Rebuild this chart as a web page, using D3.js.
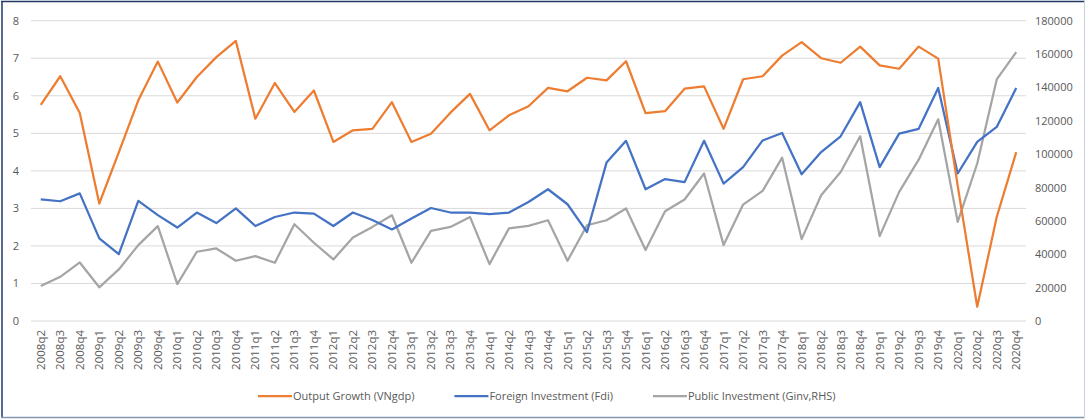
<!DOCTYPE html>
<html>
<head>
<meta charset="utf-8">
<script src="https://cdn.jsdelivr.net/npm/d3@7"></script>
<style>
  body { margin: 0; background: #ffffff; }
  svg { display: block; }
  text { font-family: "Open Sans", "Liberation Sans", sans-serif; fill: #595959; }
</style>
</head>
<body>
<div id="chart"></div>
<script>
// quarters on the x axis
var quarters = ["2008q2","2008q3","2008q4",
  "2009q1","2009q2","2009q3","2009q4",
  "2010q1","2010q2","2010q3","2010q4",
  "2011q1","2011q2","2011q3","2011q4",
  "2012q1","2012q2","2012q3","2012q4",
  "2013q1","2013q2","2013q3","2013q4",
  "2014q1","2014q2","2014q3","2014q4",
  "2015q1","2015q2","2015q3","2015q4",
  "2016q1","2016q2","2016q3","2016q4",
  "2017q1","2017q2","2017q3","2017q4",
  "2018q1","2018q2","2018q3","2018q4",
  "2019q1","2019q2","2019q3","2019q4",
  "2020q1","2020q2","2020q3","2020q4"];

// Output Growth (VNgdp) - left axis
var gdp = [5.76,6.52,5.54,3.13,4.49,5.88,6.91,5.82,6.5,7.03,
           7.46,5.39,6.34,5.57,6.14,4.77,5.08,5.12,5.83,4.77,
           4.99,5.55,6.05,5.08,5.48,5.72,6.21,6.12,6.48,6.41,
           6.92,5.54,5.59,6.19,6.25,5.12,6.44,6.52,7.07,7.43,
           7.0,6.88,7.31,6.81,6.72,7.31,6.99,3.6,0.38,2.77,
           4.5];

// Foreign Investment (Fdi) - left axis
var fdi = [3.24,3.19,3.4,2.2,1.78,3.2,2.82,2.49,2.89,2.61,
           3.0,2.53,2.77,2.89,2.86,2.53,2.89,2.69,2.44,2.73,
           3.01,2.89,2.89,2.85,2.89,3.17,3.51,3.11,2.37,4.22,
           4.8,3.51,3.78,3.7,4.8,3.66,4.1,4.81,5.01,3.91,
           4.5,4.92,5.83,4.1,4.99,5.12,6.21,3.93,4.77,5.17,
           6.21];

// Public Investment (Ginv) - right axis
var ginv = [20950,26500,35100,20200,30900,45500,56900,22100,41500,43500,
            36100,38900,34900,58000,46900,36900,50100,56400,63400,34900,
            54000,56400,62400,34100,55500,57000,60400,36100,57400,60400,
            67400,42500,65800,72800,88400,45500,69800,78000,97900,49100,
            75400,89300,110700,50900,77400,96700,120900,59400,94400,144800,
            161200];

var leftTicks = [0,1,2,3,4,5,6,7,8];
var rightTicks = [0,20000,40000,60000,80000,100000,120000,140000,160000,180000];

var seriesNames = ["Output Growth (VNgdp)", "Foreign Investment (Fdi)", "Public Investment (Ginv,RHS)"];
var seriesColors = ["#ed7d31", "#4472c4", "#a5a5a5"];

var width = 1086, height = 419;

var svg = d3.select("#chart").append("svg")
  .attr("width", width)
  .attr("height", height);

// frame
svg.append("rect")
  .attr("x", 0).attr("y", 0).attr("width", width).attr("height", height)
  .attr("fill", "#ffffff");
svg.append("line").attr("x1", 1).attr("x2", width - 1).attr("y1", 1.5).attr("y2", 1.5)
  .attr("stroke", "#1f3864").attr("stroke-width", 1.5);
svg.append("line").attr("x1", 2).attr("x2", 2).attr("y1", 1).attr("y2", 418)
  .attr("stroke", "#1f3864").attr("stroke-width", 1.5);
svg.append("line").attr("x1", 1).attr("x2", width - 1).attr("y1", 417.5).attr("y2", 417.5)
  .attr("stroke", "#8497b0").attr("stroke-width", 1.5);
svg.append("line").attr("x1", 1084.5).attr("x2", 1084.5).attr("y1", 1).attr("y2", 418)
  .attr("stroke", "#c9d1de").attr("stroke-width", 1);

// scales
var x = d3.scalePoint()
  .domain(quarters)
  .range([31, 1026])
  .padding(0.5);

var yL = d3.scaleLinear().domain([0, 8]).range([321, 20.7]);
var yR = d3.scaleLinear().domain([0, 180000]).range([321, 20.7]);

// gridlines
svg.append("g")
  .selectAll("line")
  .data(leftTicks)
  .enter()
  .append("line")
    .attr("x1", 31)
    .attr("x2", 1026)
    .attr("y1", function(d) { return yL(d); })
    .attr("y2", function(d) { return yL(d); })
    .attr("stroke", "#d9d9d9")
    .attr("stroke-width", 1);

// left axis labels
var axL = svg.append("g")
  .attr("transform", "translate(19,0)")
  .call(d3.axisLeft(yL).tickValues(leftTicks).tickSize(0).tickPadding(0));
axL.select(".domain").remove();
axL.selectAll("text")
  .style("font-size", "11px")
  .style("fill", "#595959")
  .style("font-family", "'Open Sans', sans-serif");

// right axis labels
var axR = svg.append("g")
  .attr("transform", "translate(1035,0)")
  .call(d3.axisRight(yR).tickValues(rightTicks).tickSize(0).tickPadding(0).tickFormat(d3.format("d")));
axR.select(".domain").remove();
axR.selectAll("text")
  .style("font-size", "11px")
  .style("fill", "#595959")
  .style("font-family", "'Open Sans', sans-serif");

// x axis labels (rotated)
svg.append("g")
  .selectAll("text")
  .data(quarters)
  .enter()
  .append("text")
    .attr("transform", function(d) { return "translate(" + x(d) + ",330) rotate(-90)"; })
    .attr("dy", "0.35em")
    .attr("text-anchor", "end")
    .style("font-size", "11.5px")
    .text(function(d) { return d; });

// lines
var lineL = d3.line()
  .x(function(d, i) { return x(quarters[i]); })
  .y(function(d) { return yL(d); });
var lineR = d3.line()
  .x(function(d, i) { return x(quarters[i]); })
  .y(function(d) { return yR(d); });

svg.append("path").datum(ginv)
  .attr("d", lineR)
  .attr("fill", "none")
  .attr("stroke", seriesColors[2])
  .attr("stroke-width", 2.25)
  .attr("stroke-linejoin", "round");
svg.append("path").datum(fdi)
  .attr("d", lineL)
  .attr("fill", "none")
  .attr("stroke", seriesColors[1])
  .attr("stroke-width", 2.25)
  .attr("stroke-linejoin", "round");
svg.append("path").datum(gdp)
  .attr("d", lineL)
  .attr("fill", "none")
  .attr("stroke", seriesColors[0])
  .attr("stroke-width", 2.25)
  .attr("stroke-linejoin", "round");

// legend, laid out left to right
var legend = svg.append("g").attr("transform", "translate(0,396)");
var lx = 258;
seriesNames.forEach(function(name, i) {
  var item = legend.append("g").attr("transform", "translate(" + lx + ",0)");
  item.append("line")
    .attr("x1", 0).attr("x2", 34)
    .attr("y1", 0).attr("y2", 0)
    .attr("stroke", seriesColors[i])
    .attr("stroke-width", 2.25);
  var t = item.append("text")
    .attr("x", 35)
    .attr("dy", "0.35em")
    .style("font-size", "11px")
    .text(name);
  lx += 35 + t.node().getComputedTextLength() + 40;
});
</script>
</body>
</html>
